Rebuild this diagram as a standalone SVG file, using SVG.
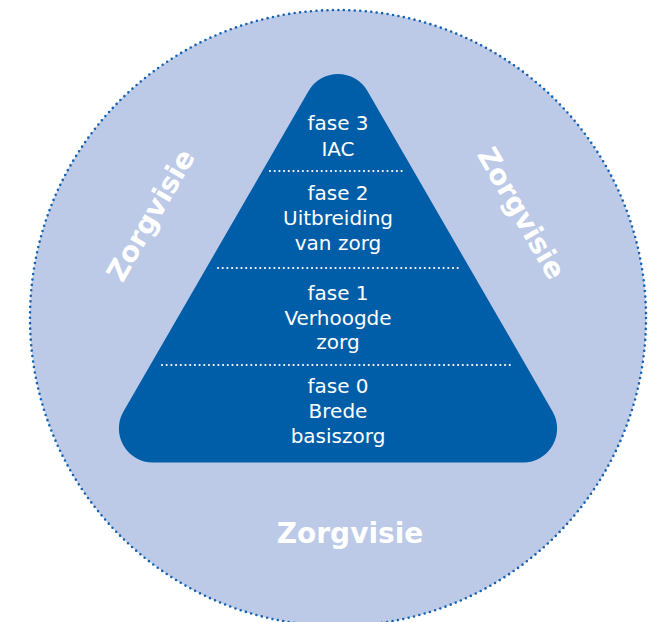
<svg xmlns="http://www.w3.org/2000/svg" width="650" height="622" viewBox="0 0 650 622">
  <style>
    .phase { font-family: "DejaVu Sans", "Liberation Sans", sans-serif; font-size: 20px; fill: #ffffff; text-anchor: middle; }
    .vision { font-family: "DejaVu Sans", "Liberation Sans", sans-serif; font-size: 28px; font-weight: bold; fill: #ffffff; text-anchor: middle; }
    .divider { stroke: #ffffff; stroke-width: 2.2; stroke-linecap: round; stroke-dasharray: 0 4.7; fill: none; }
  </style>
  <rect width="650" height="622" fill="#ffffff"/>
  <g id="zorgvisie-circle">
    <circle cx="338" cy="318" r="308" fill="#bccae7" stroke="#1862b0" stroke-width="2.6" stroke-linecap="round" stroke-dasharray="0 5.497"/>
    <text class="vision" x="350" y="543">Zorgvisie</text>
    <text class="vision" transform="translate(159,220) rotate(-60)" x="0" y="0">Zorgvisie</text>
    <text class="vision" transform="translate(513,218) rotate(60)" x="0" y="0">Zorgvisie</text>
  </g>
  <g id="pyramid">
    <path d="M308.55,91 A34,34 0 0 1 367.45,91 L552.55,411.5 A34,34 0 0 1 523.1,462.5 L152.9,462.5 A34,34 0 0 1 123.45,411.5 Z" fill="#005ea8"/>
    <g id="connectors">
      <line class="divider" x1="270" y1="171" x2="406" y2="171"/>
      <line class="divider" x1="218" y1="268" x2="458" y2="268"/>
      <line class="divider" x1="162" y1="365" x2="514" y2="365"/>
    </g>
  </g>
  <g id="fase3">
    <text class="phase" x="338" y="130">fase 3</text>
    <text class="phase" x="338" y="156">IAC</text>
  </g>
  <g id="fase2">
    <text class="phase" x="338" y="200">fase 2</text>
    <text class="phase" x="338" y="225">Uitbreiding</text>
    <text class="phase" x="338" y="250">van zorg</text>
  </g>
  <g id="fase1">
    <text class="phase" x="338" y="300">fase 1</text>
    <text class="phase" x="338" y="325">Verhoogde</text>
    <text class="phase" x="338" y="349">zorg</text>
  </g>
  <g id="fase0">
    <text class="phase" x="338" y="393">fase 0</text>
    <text class="phase" x="338" y="418">Brede</text>
    <text class="phase" x="338" y="443">basiszorg</text>
  </g>
</svg>
